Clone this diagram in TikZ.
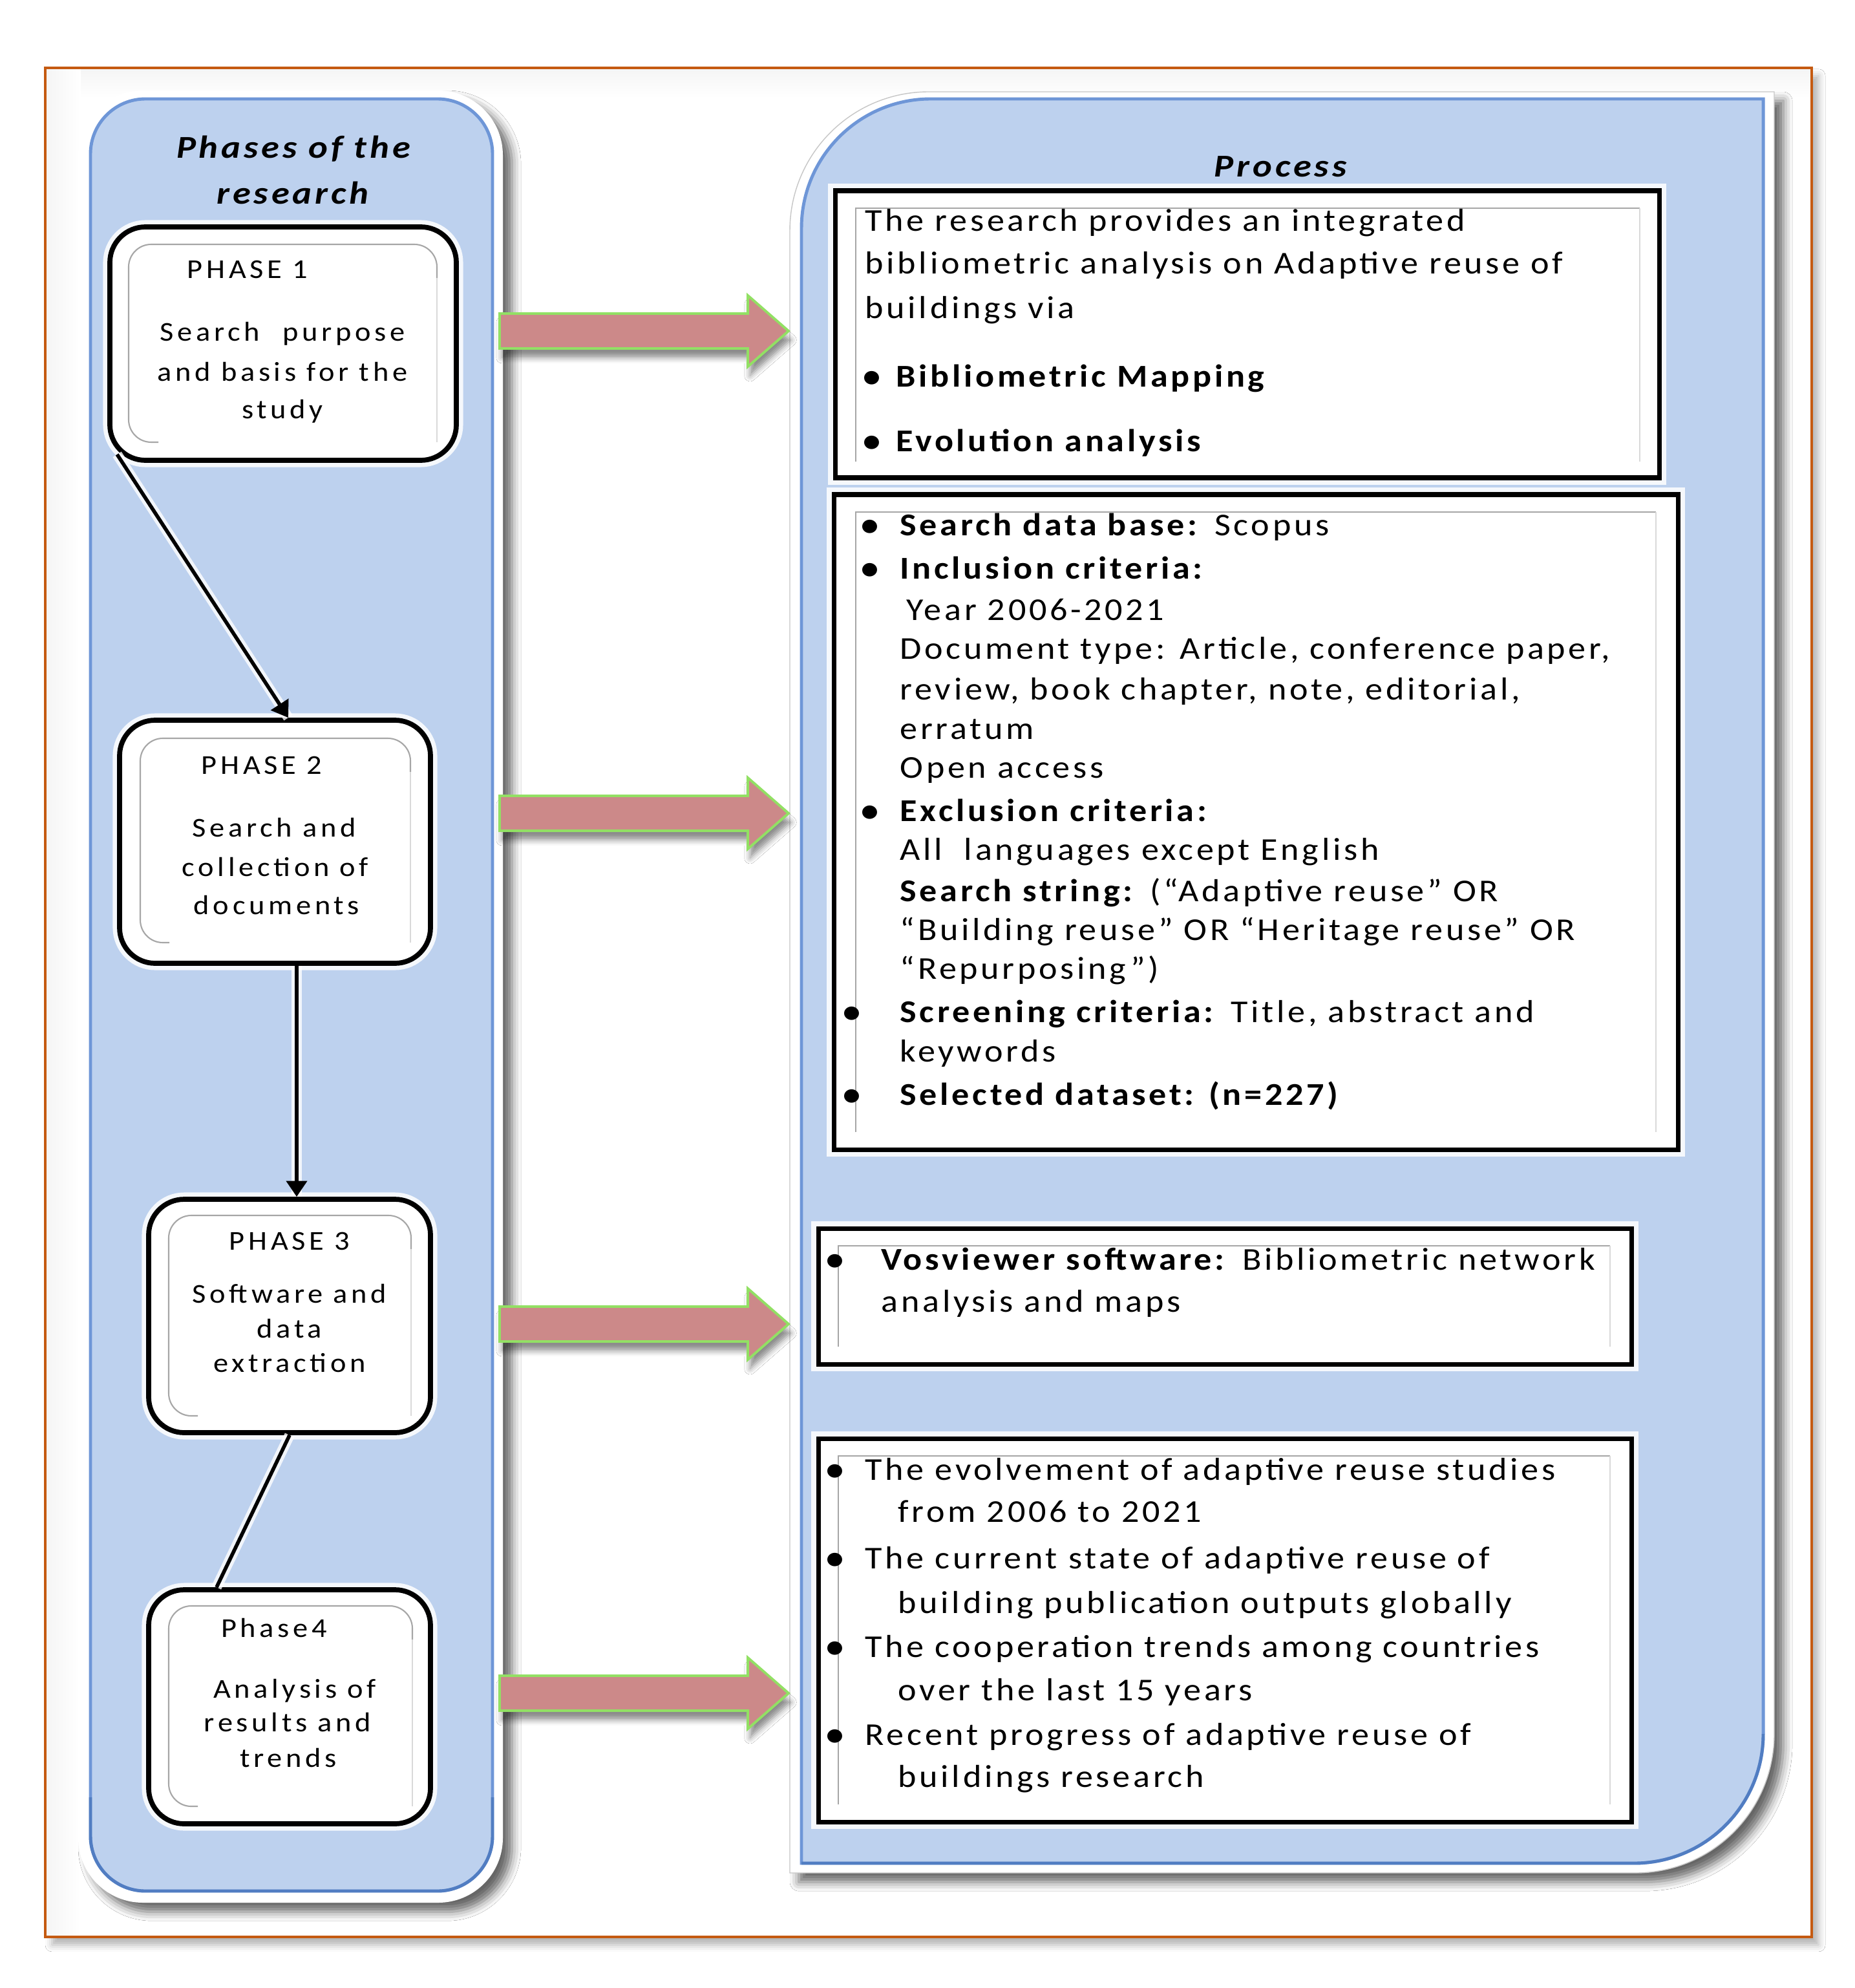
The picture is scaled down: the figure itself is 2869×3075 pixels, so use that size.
\documentclass[tikz,border=0pt]{standalone}
\usepackage{fontspec}
\setmainfont{Carlito}[FakeStretch=1.1,LetterSpace=9.5]
\newfontfamily\phasefont{Carlito}[FakeStretch=1.1,LetterSpace=13.5]
\newfontfamily\titlefont{Carlito}[FakeStretch=1.15,LetterSpace=10]
\usetikzlibrary{arrows.meta,shadows.blur,calc}
\definecolor{panelblue}{HTML}{BDD1EE}
\definecolor{panelline}{HTML}{6E96D7}
\definecolor{paneldark}{HTML}{3E6DB5}
\definecolor{frameorange}{HTML}{C55A11}
\definecolor{arrowpink}{HTML}{CC8989}
\definecolor{arrowgreen}{HTML}{92E064}
\definecolor{innergray}{HTML}{A6A6A6}
\definecolor{innerlight}{HTML}{D9D9D9}
\newcommand\bul[1]{\makebox[0pt][r]{\textbf{•}\hspace{#1}}}
\begin{document}
\begin{tikzpicture}[x=0.1mm,y=-0.1mm,
  txt/.style={anchor=base west,inner sep=0pt,font=\fontsize{14}{16}\selectfont},
  phtxt/.style={anchor=base,inner sep=0pt,font=\phasefont\fontsize{12}{14}\selectfont},
  ttl/.style={anchor=base,inner sep=0pt,font=\titlefont\fontsize{14}{16}\selectfont\bfseries\itshape},
  phasebox/.style={draw=black,line width=2.2pt,fill=white,rounded corners=5.5mm,inner sep=0pt,
    preaction={draw=white,line width=6pt,opacity=.85}},
  rbox/.style={draw=black,line width=2pt,fill=white,preaction={draw=white,line width=6pt,opacity=.85}},
  innerdark/.style={draw=innergray,line width=0.6pt,rounded corners=3.5mm},
  innerlt/.style={draw=innerlight,line width=0.6pt},
  conn/.style={draw=black,line width=1.6pt},
  connhalo/.style={draw=white,line width=4.5pt,opacity=.8},
  tip/.style={-{Triangle[length=7pt,width=9pt]}},
  blockarrow/.style={fill=arrowpink,draw=arrowgreen,line width=1.1pt,line join=miter,
    blur shadow={shadow xshift=1pt,shadow yshift=-4pt,shadow blur radius=2.5pt,shadow opacity=45}},
  panelshadow/.style={blur shadow={shadow xshift=4pt,shadow yshift=-4pt,shadow blur radius=4pt,shadow opacity=60}}
]
\useasboundingbox (0,0) rectangle (2869,3075);
\fill[white] (0,0) rectangle (2869,3075);
% outer frame
\path[fill=white,blur shadow={shadow xshift=3pt,shadow yshift=-3.5pt,shadow blur radius=3pt,shadow opacity=30}] (70,105) rectangle (2803,2996);
\shade[top color=gray!8,middle color=gray!24,bottom color=white] (72,107) rectangle (2801,152);
\shade[left color=gray!8,middle color=gray!24,right color=white] (72,107) rectangle (125,2994);
\draw[frameorange,line width=0.9pt] (70,105) rectangle (2803,2996);
% left panel
\path[fill=white,panelshadow,rounded corners=10mm] (121,140) rectangle (778,2943);
\path[fill=panelblue,draw=panelline,line width=1.4pt,rounded corners=8.5mm] (140,153) rectangle (762,2925);
\draw[paneldark,line width=1.4pt,opacity=.6,rounded corners=8.5mm] (140,2780) -- (140,2925) -- (762,2925) -- (762,2780);
% right panel
\path[fill=white,draw=gray!45,line width=0.4pt,panelshadow] (1222,2897) -- (1222,357) .. controls (1222,238) and (1318,142) .. (1437,142) -- (2745,142) -- (2745,2682) .. controls (2745,2801) and (2649,2897) .. (2530,2897) -- cycle;
\path[fill=panelblue,draw=panelline,line width=1.4pt] (1240,2882) -- (1240,353) .. controls (1240,242.5) and (1329.5,153) .. (1440,153) -- (2728,153) -- (2728,2682) .. controls (2728,2792.5) and (2638.5,2882) .. (2528,2882) -- cycle;
\draw[paneldark,line width=1.4pt,opacity=.6] (1240,2882) -- (2528,2882) .. controls (2638.5,2882) and (2728,2792.5) .. (2728,2682);
% titles
\node[ttl] (ttl1) at (454,245) {Phases of the};
\node[ttl] (ttl2) at (453,316) {research};
\node[ttl] (ttl3) at (1981,274) {Process};
% block arrows
\foreach \c in {512,1258,2048,2619}{
  \path[blockarrow] (773,\c-27) -- (1157,\c-27) -- (1157,\c-55) -- (1220,\c) -- (1157,\c+55) -- (1157,\c+27) -- (773,\c+27) -- cycle;
}
% phase boxes
\node[phasebox,minimum width=53.6mm,minimum height=36.1mm] (p1) at (438,531.5) {};
\node[phasebox,minimum width=48.1mm,minimum height=37.6mm] (p2) at (425.5,1302) {};
\node[phasebox,minimum width=43.6mm,minimum height=36.1mm] (p3) at (448,2035.5) {};
\node[phasebox,minimum width=43.6mm,minimum height=36.2mm] (p4) at (448,2640) {};
\draw[innerdark] (245,684) -- (199,684) -- (199,378) -- (676,378) -- (676,430);
\draw[innerlt] (676,430) -- (676,684);
\draw[innerdark] (262,1458) -- (217,1458) -- (217,1142) -- (635,1142) -- (635,1194);
\draw[innerlt] (635,1194) -- (635,1458);
\draw[innerdark] (306,2190) -- (261,2190) -- (261,1880) -- (636,1880) -- (636,1932);
\draw[innerlt] (636,1932) -- (636,2190);
\draw[innerdark] (306,2794) -- (261,2794) -- (261,2484) -- (638,2484) -- (638,2536);
\draw[innerlt] (638,2536) -- (638,2794);
% phase texts
\node[phtxt] (p1a) at (383,431) {PHASE 1};
\node[phtxt] (p1b) at (437,528) {Search\hspace{3.5mm}purpose};
\node[phtxt] (p1c) at (437,589) {and basis for the};
\node[phtxt] (p1d) at (437,648) {study};
\node[phtxt] (p2a) at (405,1197) {PHASE 2};
\node[phtxt] (p2b) at (424,1294) {Search and};
\node[phtxt] (p2c) at (426,1355) {collection of};
\node[phtxt] (p2d) at (428,1414) {documents};
\node[phtxt] (p3a) at (448,1933) {PHASE 3};
\node[phtxt] (p3b) at (448,2015) {Software and};
\node[phtxt] (p3c) at (448,2069) {data};
\node[phtxt] (p3d) at (448,2122) {extraction};
\node[phtxt] (p4a) at (424,2532) {Phase4};
\node[phtxt] (p4b) at (456,2626) {Analysis of};
\node[phtxt] (p4c) at (445,2678) {results and};
\node[phtxt] (p4d) at (446,2733) {trends};
% connectors
\coordinate (vx) at (459,1600);
\draw[connhalo] ([xshift=1.5mm,yshift=1.3mm]p1.south west) -- ([xshift=2.05mm]p2.north);
\draw[conn,tip] ([xshift=1.5mm,yshift=1.3mm]p1.south west) -- ([xshift=2.05mm]p2.north);
\draw[connhalo] (vx |- p2.south) -- (vx |- p3.north);
\draw[conn,tip] (vx |- p2.south) -- (vx |- p3.north);
\draw[connhalo] (p3.south) -- ([xshift=-11.3mm]p4.north);
\draw[conn] (p3.south) -- ([xshift=-11.3mm]p4.north);
% right boxes
\draw[rbox] (1292,295) rectangle (2567,739);
\draw[innerdark,rounded corners=0pt] (1324,714) -- (1324,322) -- (2537,322);
\draw[innerlt] (2537,322) -- (2537,714);
\draw[rbox] (1290,765) rectangle (2596,1778);
\draw[innerdark,rounded corners=0pt] (1324,1751) -- (1324,792) -- (2562,792);
\draw[innerlt] (2562,792) -- (2562,1751);
\draw[rbox] (1266,1900) rectangle (2524,2110);
\draw[innerdark,rounded corners=0pt] (1297,2083) -- (1297,1927) -- (2491,1927);
\draw[innerlt] (2491,1927) -- (2491,2083);
\draw[rbox] (1266,2225) rectangle (2524,2818);
\draw[innerdark,rounded corners=0pt] (1297,2791) -- (1297,2252) -- (2491,2252);
\draw[innerlt] (2491,2252) -- (2491,2791);
% box A text
\node[txt] (a1) at (1338,358) {The research provides an integrated};
\node[txt] (a2) at (1338,424) {bibliometric analysis on Adaptive reuse of};
\node[txt] (a3) at (1338,493) {buildings via};
\node[txt] (a4) at (1386,599) {\bul{2mm}\textbf{Bibliometric Mapping}};
\node[txt] (a5) at (1386,698) {\bul{2mm}\textbf{Evolution analysis}};
% box B text
\node[txt] (b1) at (1392,828) {\bul{2.9mm}\textbf{Search data base:} Scopus};
\node[txt] (b2) at (1392,895) {\bul{2.9mm}\textbf{Inclusion criteria:}};
\node[txt] (b3) at (1402,959) {Year 2006-2021};
\node[txt] (b4) at (1392,1019) {Document type: Article, conference paper,};
\node[txt] (b5) at (1392,1082) {review, book chapter, note, editorial,};
\node[txt] (b6) at (1392,1143) {erratum};
\node[txt] (b7) at (1392,1203) {Open access};
\node[txt] (b8) at (1392,1270) {\bul{2.9mm}\textbf{Exclusion criteria:}};
\node[txt] (b9) at (1392,1330) {All\ \ languages except English};
\node[txt] (b10) at (1392,1394) {\textbf{Search string:} (“Adaptive reuse” OR};
\node[txt] (b11) at (1392,1454) {“Building reuse” OR “Heritage reuse” OR};
\node[txt] (b12) at (1392,1514) {“Repurposing”)};
\node[txt] (b13) at (1392,1581) {\bul{5.7mm}\textbf{Screening criteria:} Title, abstract and};
\node[txt] (b14) at (1392,1642) {keywords};
\node[txt] (b15) at (1392,1709) {\bul{5.7mm}\textbf{Selected dataset: (n=227)}};
% box C text
\node[txt] (c1) at (1363,1964) {\bul{5.4mm}\textbf{Vosviewer software:} Bibliometric network};
\node[txt] (c2) at (1363,2029) {analysis and maps};
% box D text
\node[txt] (d1) at (1338,2289) {\bul{2.9mm}The evolvement of adaptive reuse studies};
\node[txt] (d2) at (1389,2354) {from 2006 to 2021};
\node[txt] (d3) at (1338,2426) {\bul{2.9mm}The current state of adaptive reuse of};
\node[txt] (d4) at (1389,2495) {building publication outputs globally};
\node[txt] (d5) at (1338,2563) {\bul{2.9mm}The cooperation trends among countries};
\node[txt] (d6) at (1389,2630) {over the last 15 years};
\node[txt] (d7) at (1338,2699) {\bul{2.9mm}Recent progress of adaptive reuse of};
\node[txt] (d8) at (1389,2764) {buildings research};
\end{tikzpicture}
\end{document}
